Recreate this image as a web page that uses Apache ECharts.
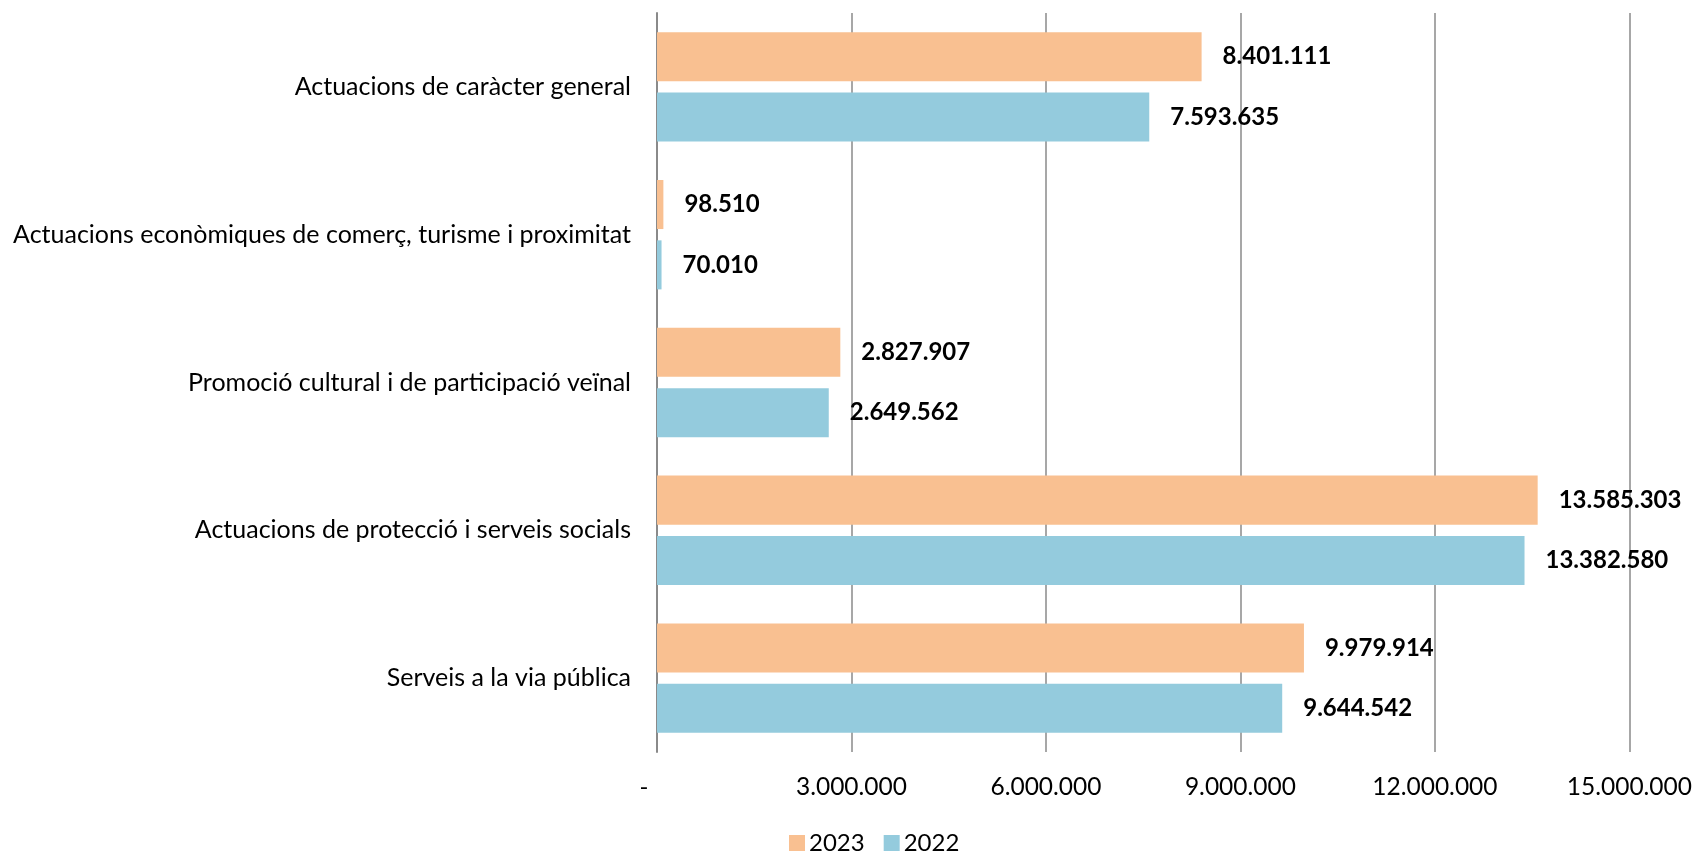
<!DOCTYPE html>
<html>
<head>
<meta charset="utf-8">
<script src="https://cdn.jsdelivr.net/npm/echarts@6/dist/echarts.min.js"></script>
<style>html,body{margin:0;padding:0;background:#fff;}#c{width:1695px;height:854px;}</style>
</head>
<body>
<div id="c"></div>
<script>
const categories = [
  "Actuacions de caràcter general",
  "Actuacions econòmiques de comerç, turisme i proximitat",
  "Promoció cultural i de participació veïnal",
  "Actuacions de protecció i serveis socials",
  "Serveis a la via pública"
];
const seriesNames = ["2023", "2022"];
const values2023 = [8401111, 98510, 2827907, 13585303, 9979914];
const values2022 = [7593635, 70010, 2649562, 13382580, 9644542];
const axisMin = 0, axisMax = 15000000, axisStep = 3000000;

function fmt(v) {
  if (v === 0) return '-';
  return String(Math.round(v)).replace(/\B(?=(\d{3})+(?!\d))/g, '.');
}
const FONT = 'Lato';
const chart = echarts.init(document.getElementById('c'), null, {renderer: 'canvas'});
const labelStyle = {
  show: true, position: 'right', distance: 21,
  formatter: p => fmt(p.value),
  fontFamily: FONT, fontWeight: 'bold', fontSize: 24, color: '#000'
};
chart.setOption({
  animation: false,
  backgroundColor: '#fff',
  textStyle: {fontFamily: FONT},
  grid: {left: 657, right: 58, top: 13, bottom: 854 - 752, containLabel: false},
  legend: {
    data: seriesNames, left: 784, top: 826,
    itemWidth: 16, itemHeight: 16, itemGap: 19,
    icon: 'rect',
    textStyle: {fontFamily: FONT, fontSize: 24, color: '#000', padding: [0,0,0,-1]}
  },
  xAxis: {
    type: 'value', min: axisMin, max: axisMax, interval: axisStep,
    axisLine: {show: false}, axisTick: {show: false},
    splitLine: {show: true, lineStyle: {color: '#8a8a8a', width: 1.5}},
    axisLabel: {
      formatter: v => v === 0 ? '{z|-}' : fmt(v),
      rich: {z: {fontFamily: FONT, fontSize: 24, color: '#000', padding: [0, 26, 0, 0]}},
      fontFamily: FONT, fontSize: 24.5, color: '#000', margin: 23
    }
  },
  yAxis: {
    type: 'category', data: categories, inverse: true,
    axisLine: {show: true, lineStyle: {color: '#8a8a8a', width: 2}},
    axisTick: {show: false},
    axisLabel: {fontFamily: FONT, fontSize: 25, color: '#000', margin: 26}
  },
  series: [
    {name: seriesNames[0], type: 'bar', data: values2023, barGap: '23%', barCategoryGap: '26%',
     itemStyle: {color: '#F9C091'}, label: labelStyle},
    {name: seriesNames[1], type: 'bar', data: values2022, barGap: '23%', barCategoryGap: '26%',
     itemStyle: {color: '#94CBDD'}, label: labelStyle}
  ]
});
</script>
</body>
</html>
